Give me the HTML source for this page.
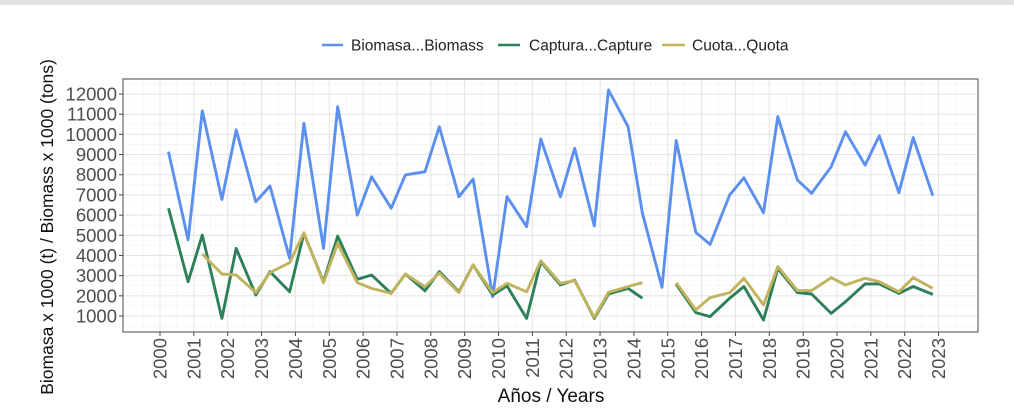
<!DOCTYPE html>
<html><head><meta charset="utf-8"><style>
html,body{margin:0;padding:0;background:#fff;}
svg{display:block;font-family:"Liberation Sans",sans-serif;}
</style></head><body>
<svg id="chart" width="1014" height="414" xmlns="http://www.w3.org/2000/svg">
<rect x="0" y="0" width="1014" height="5" fill="#e3e3e3"/>
<g id="grid"></g>
<g id="lines"></g>
<rect x="123" y="79" width="855" height="253" fill="none" stroke="#666" stroke-width="1.2"/>
<g id="axes"></g>
<text x="0" y="0" transform="translate(53,227) rotate(-90)" text-anchor="middle" font-size="17.5" fill="#111">Biomasa x 1000 (t) / Biomass x 1000 (tons)</text>
<text x="551" y="402" text-anchor="middle" font-size="19" fill="#111">Años / Years</text>
<g>
<g><line x1="322" y1="45" x2="343" y2="45" stroke="#5b8ff0" stroke-width="2.6"/><text x="351" y="50.5" font-size="15.5" fill="#222">Biomasa...Biomass</text></g>
<g><line x1="498" y1="45" x2="520" y2="45" stroke="#2e8059" stroke-width="2.6"/><text x="529" y="50.5" font-size="15.5" fill="#222">Captura...Capture</text></g>
<g><line x1="662" y1="45" x2="685" y2="45" stroke="#c2b45e" stroke-width="2.6"/><text x="692" y="50.5" font-size="15.5" fill="#222">Cuota...Quota</text></g>
</g>
</svg>
<script>
const years = [2000,2001,2002,2003,2004,2005,2006,2007,2008,2009,2010,2011,2012,2013,2014,2015,2016,2017,2018,2019,2020,2021,2022,2023];
const yTicks = [1000,2000,3000,4000,5000,6000,7000,8000,9000,10000,11000,12000];
const biomass = [9140,4770,11170,6780,10220,6660,7440,3860,10550,4350,11370,6000,7900,6340,7990,8150,10380,6910,7790,1960,6910,5430,9770,6910,9310,5460,12200,10380,6090,2420,9690,5150,4550,7000,7850,6120,10880,7740,7080,8400,10130,8480,9930,7110,9840,6960];
const capture = [6340,2700,5010,880,4350,2040,3200,2200,5100,2700,4960,2820,3030,2120,3080,2250,3200,2200,3530,2040,2490,880,3690,2540,2780,880,2090,2370,1880,null,2570,1170,970,1880,2460,800,3360,2160,2090,1130,1710,2590,2590,2120,2460,2070];
const quota = [null,null,4070,3080,3030,2160,3150,3640,5130,2650,4600,2650,2370,2120,3080,2450,3120,2160,3530,2160,2620,2200,3740,2620,2750,930,2170,2460,2650,null,2650,1300,1910,2160,2870,1550,3450,2260,2260,2900,2540,2870,2700,2200,2900,2370];

const NS="http://www.w3.org/2000/svg";
const X0=123,X1=978,Y0=79,Y1=332;
function xScale(t){return 160+(t-2000)*33.85;}
function yScale(v){return 316-(v-1000)*0.02018;}
function tOf(i){return 2000.25+Math.floor(i/2)+(i%2)*0.58;}
function mk(tag,attrs,parent){const e=document.createElementNS(NS,tag);for(const k in attrs)e.setAttribute(k,attrs[k]);parent.appendChild(e);return e;}
const grid=document.getElementById('grid'),axes=document.getElementById('axes'),lines=document.getElementById('lines');
mk('rect',{x:X0,y:Y0,width:X1-X0,height:Y1-Y0,fill:'#fff'},grid);
for(let v=500;v<=12500;v+=1000){const y=yScale(v);if(y>Y0&&y<Y1){mk('line',{x1:X0,x2:X1,y1:y,y2:y,stroke:'#f2f2f2','stroke-width':0.6},grid);}}
for(let i=0;i<years.length;i++){const x=xScale(years[i]+0.5);if(x<X1){mk('line',{x1:x,x2:x,y1:Y0,y2:Y1,stroke:'#f2f2f2','stroke-width':0.6},grid);}
const xm=xScale(years[i]-0.5);if(xm>X0&&i==0){mk('line',{x1:xm,x2:xm,y1:Y0,y2:Y1,stroke:'#f2f2f2','stroke-width':0.6},grid);}}
yTicks.forEach(v=>{const y=yScale(v);
mk('line',{x1:X0,x2:X1,y1:y,y2:y,stroke:'#e6e6e6','stroke-width':1.1},grid);
const tk=mk('line',{x1:X0-4,x2:X0,y1:y,y2:y,stroke:'#444','stroke-width':1},axes);


const t=mk('text',{x:X0-6,y:y+6.5,'text-anchor':'end','font-size':18.5,fill:'#4d4d4d'},axes);t.textContent=v;


});
years.forEach(yr=>{const x=xScale(yr);
mk('line',{x1:x,x2:x,y1:Y0,y2:Y1,stroke:'#e6e6e6','stroke-width':1.1},grid);
const tk=mk('line',{x1:x,x2:x,y1:Y1,y2:Y1+4,stroke:'#444','stroke-width':1},axes);


const t=mk('text',{x:0,y:0,transform:`translate(${x+6.5},${Y1+6}) rotate(-90)`,'text-anchor':'end','font-size':18.5,fill:'#4d4d4d'},axes);t.textContent=yr;


});
function drawSeries(vals,color,name){let d='',pen=false;
vals.forEach((v,i)=>{if(v==null){pen=false;return;}d+=(pen?'L':'M')+xScale(tOf(i)).toFixed(1)+','+yScale(v).toFixed(1);pen=true;});
const p=mk('path',{d:d,fill:'none',stroke:color,'stroke-width':2.9,'stroke-linejoin':'round'},lines);

}
drawSeries(biomass,'#5b8ff0','biomass-line');
drawSeries(capture,'#2e8059','capture-line');
drawSeries(quota,'#c2b45e','quota-line');
</script>
</body></html>
